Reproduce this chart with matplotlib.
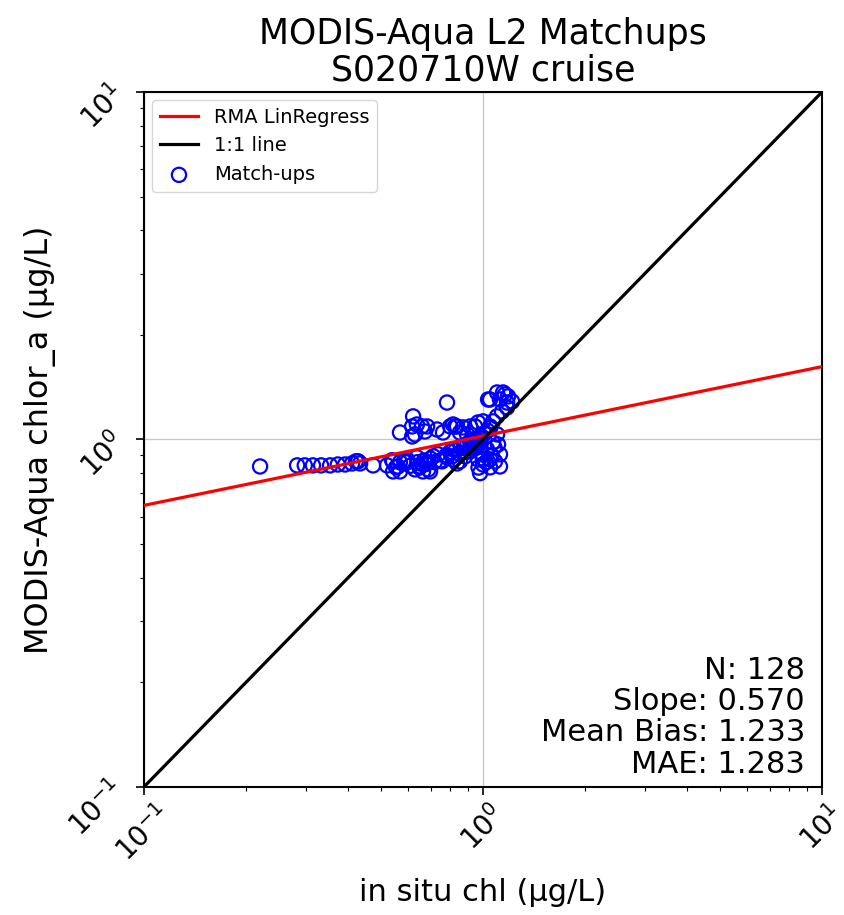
import numpy as np
import matplotlib
matplotlib.use("Agg")
import matplotlib.pyplot as plt

# in situ chl (x) and MODIS chl (y) matchups
insitu = [0.220, 0.283, 0.298, 0.315, 0.333, 0.354, 0.373, 0.392, 0.411, 0.422, 0.428, 0.434,
          0.474, 0.521, 0.539, 0.554, 0.569, 0.585,
          0.569, 0.622, 0.638, 0.618, 0.661, 0.674, 0.630, 0.732, 0.762, 0.800, 0.816, 0.783,
          0.543, 0.561, 0.543, 0.597, 0.638, 0.652, 0.665, 0.688, 0.713, 0.737, 0.757, 0.783,
          0.810, 0.630, 0.698, 0.569,
          1.049, 1.100, 1.146, 1.185, 1.122, 1.218, 1.177, 1.138, 1.100, 1.070, 1.049, 1.000,
          0.967, 0.947, 0.916, 0.873, 0.838, 1.035, 1.161, 1.177,
          0.980, 0.960, 0.993, 0.967, 1.000, 1.049, 1.122, 1.122, 1.107, 1.070, 1.028, 1.049,
          1.085, 0.916, 0.885, 0.855, 0.838, 0.816, 0.827, 0.855, 0.897, 0.916, 0.816, 1.100,
          0.684, 0.618,
          0.750, 0.780, 0.800, 0.830, 0.860, 0.880, 0.900, 0.930, 0.950, 0.970, 0.850, 0.890,
          0.920, 0.940, 0.960, 0.990, 1.010, 1.030, 1.050, 0.980, 1.000, 0.970, 1.020, 1.060,
          1.080, 0.720, 0.700, 0.670, 0.660, 0.640, 0.610, 0.600, 0.980, 0.650, 0.680, 0.690]
modis = [0.836, 0.842, 0.842, 0.842, 0.842, 0.842, 0.847, 0.847, 0.853, 0.865, 0.865, 0.853,
         0.842, 0.842, 0.871, 0.831, 0.859, 0.865,
         1.047, 1.165, 1.104, 1.090, 1.090, 1.054, 1.034, 1.068, 1.047, 1.090, 1.104, 1.277,
         0.865, 0.836, 0.809, 0.859, 0.888, 0.836, 0.809, 0.859, 0.894, 0.906, 0.865, 0.888,
         0.894, 0.820, 0.809, 0.809,
         1.303, 1.365, 1.365, 1.330, 1.303, 1.286, 1.236, 1.204, 1.165, 1.127, 1.090, 1.127,
         1.119, 1.090, 1.090, 1.083, 1.090, 1.303, 1.347, 1.277,
         0.987, 0.948, 0.906, 0.876, 0.847, 0.831, 0.836, 0.906, 0.967, 0.980, 0.936, 0.876,
         0.865, 0.924, 0.894, 0.865, 0.853, 0.876, 1.090, 1.047, 1.034, 0.987, 0.936, 1.034,
         1.090, 1.020,
         0.870, 0.900, 0.920, 0.930, 0.950, 0.960, 0.970, 0.980, 1.000, 1.010, 0.910, 0.920,
         0.940, 0.950, 0.970, 1.020, 1.040, 1.060, 1.080, 0.920, 0.880, 0.830, 0.860, 0.900,
         0.950, 0.860, 0.880, 0.870, 0.850, 0.860, 0.840, 0.870, 0.800, 0.830, 0.850, 0.820]

reg_x = [0.1, 10.0]
reg_y = [0.646, 1.62]
one_x = [0.1, 10.0]
one_y = [0.1, 10.0]

stats_lines = ["N: 128", "Slope: 0.570", "Mean Bias: 1.233", "MAE: 1.283"]

fig = plt.figure(figsize=(8.44, 9.15), dpi=100)
ax = fig.add_axes([0.1706, 0.140, 0.8034, 0.7595])

ax.plot(reg_x, reg_y, color="red", lw=2.3, label="RMA LinRegress", zorder=3)
ax.plot(one_x, one_y, color="black", lw=2.3, label="1:1 line", zorder=3)
ax.scatter(insitu, modis, s=105, facecolors="none", edgecolors="blue", linewidths=1.6,
           label="Match-ups", zorder=2)

ax.set_xscale("log")
ax.set_yscale("log")
ax.set_xlim(0.1, 10)
ax.set_ylim(0.1, 10)
ax.grid(True, which="major", color="#c8c8c8", lw=1)
ax.set_axisbelow(True)

for s in ax.spines.values():
    s.set_color("black")
    s.set_linewidth(1.5)

ax.tick_params(which="major", labelsize=20, length=6, width=1.2)
ax.tick_params(which="minor", length=3, width=0.8)
for lab in ax.get_xticklabels():
    lab.set_rotation(45)
for lab in ax.get_yticklabels():
    lab.set_rotation(45)

ax.set_xlabel("in situ chl (µg/L)", fontsize=22, labelpad=8)
ax.set_ylabel("MODIS-Aqua chlor_a (µg/L)", fontsize=23, labelpad=6)
ax.set_title("MODIS-Aqua L2 Matchups\nS020710W cruise", fontsize=25, pad=8,
             linespacing=1.1)

ax.text(0.975, 0.012, "\n".join(stats_lines), transform=ax.transAxes, ha="right",
        va="bottom", fontsize=22, linespacing=1.1)

leg = ax.legend(loc="upper left", fontsize=14, frameon=True, borderaxespad=0.4)
leg.get_frame().set_edgecolor("#cccccc")

fig.savefig("out.png", dpi=100)
